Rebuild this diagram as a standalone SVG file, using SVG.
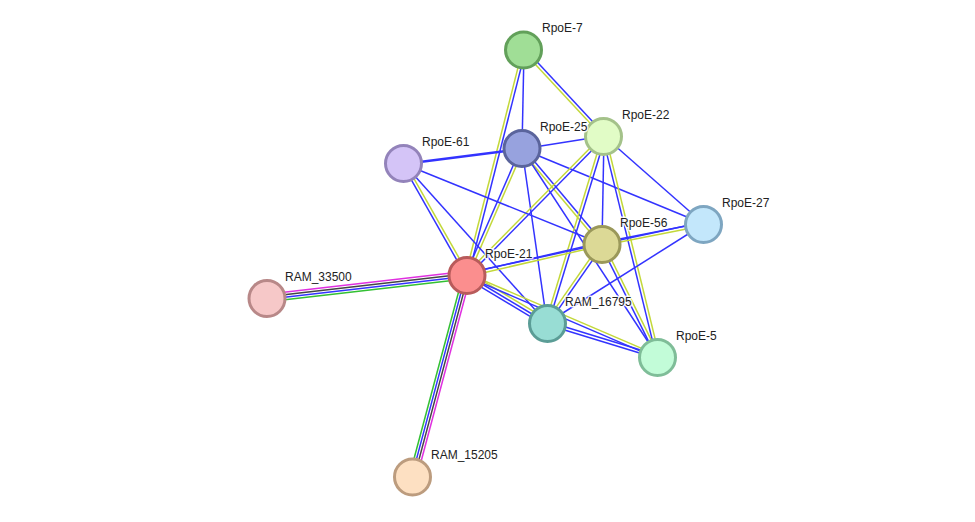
<svg xmlns="http://www.w3.org/2000/svg" width="975" height="522" viewBox="0 0 975 522">
<style>
.e line{stroke-width:1.5;fill:none}
.b{stroke:#3333ff}
.y{stroke:#c3d83a}
.m{stroke:#e030e0}
.k{stroke:#444444}
.g{stroke:#33c033}
.n circle{stroke-width:3}
.n text{font-family:"Liberation Sans",Arial,sans-serif;font-size:12px;fill:#222;stroke:#fff;stroke-width:3;stroke-opacity:0.85;paint-order:stroke;stroke-linejoin:round}
</style>
<rect width="975" height="522" fill="#fff"/>
<g id="edges" class="e">
<line class="b" x1="524" y1="50" x2="522" y2="149"/>
<line class="y" x1="522.9" y1="51.02" x2="602.9" y2="137.02"/>
<line class="b" x1="525.1" y1="48.98" x2="605.1" y2="134.98"/>
<line class="y" x1="522.55" y1="49.63" x2="465.55" y2="274.63"/>
<line class="b" x1="525.45" y1="50.37" x2="468.45" y2="275.37"/>
<line class="b" x1="522" y1="149" x2="604" y2="136"/>
<line class="b" x1="522" y1="149" x2="404" y2="164" style="stroke-width:2.6"/>
<line class="b" x1="520.63" y1="148.4" x2="465.63" y2="274.4"/>
<line class="y" x1="523.37" y1="149.6" x2="468.37" y2="275.6"/>
<line class="y" x1="520.85" y1="149.97" x2="600.85" y2="244.97"/>
<line class="b" x1="523.15" y1="148.03" x2="603.15" y2="243.03"/>
<line class="b" x1="522" y1="149" x2="704" y2="224"/>
<line class="b" x1="522" y1="149" x2="547" y2="323"/>
<line class="b" x1="522" y1="149" x2="658" y2="357"/>
<line class="y" x1="602.93" y1="134.95" x2="465.93" y2="273.95"/>
<line class="b" x1="605.07" y1="137.05" x2="468.07" y2="276.05"/>
<line class="b" x1="604" y1="136" x2="602" y2="244"/>
<line class="y" x1="602.57" y1="135.56" x2="545.57" y2="322.56"/>
<line class="b" x1="605.43" y1="136.44" x2="548.43" y2="323.44"/>
<line class="b" x1="602.54" y1="136.36" x2="656.54" y2="357.36"/>
<line class="y" x1="605.46" y1="135.64" x2="659.46" y2="356.64"/>
<line class="b" x1="604" y1="136" x2="704" y2="224"/>
<line class="b" x1="402.7" y1="164.74" x2="465.7" y2="275.74"/>
<line class="y" x1="405.3" y1="163.26" x2="468.3" y2="274.26"/>
<line class="b" x1="404" y1="164" x2="602" y2="244"/>
<line class="b" x1="404" y1="164" x2="547" y2="323"/>
<line class="b" x1="466.66" y1="273.54" x2="601.66" y2="242.54"/>
<line class="y" x1="467.34" y1="276.46" x2="602.34" y2="245.46"/>
<line class="b" x1="466.58" y1="273.04" x2="703.58" y2="222.04"/>
<line class="b" x1="601.71" y1="242.53" x2="703.71" y2="222.53"/>
<line class="y" x1="602.29" y1="245.47" x2="704.29" y2="225.47"/>
<line class="y" x1="468.54" y1="272.43" x2="548.54" y2="320.43"/>
<line class="b" x1="467" y1="275" x2="547" y2="323"/>
<line class="b" x1="465.46" y1="277.57" x2="545.46" y2="325.57"/>
<line class="y" x1="467.59" y1="273.62" x2="658.59" y2="355.62"/>
<line class="b" x1="466.41" y1="276.38" x2="657.41" y2="358.38"/>
<line class="m" x1="466.57" y1="271.27" x2="266.57" y2="294.27"/>
<line class="k" x1="466.86" y1="273.76" x2="266.86" y2="296.76"/>
<line class="b" x1="467.14" y1="276.24" x2="267.14" y2="299.24"/>
<line class="g" x1="467.43" y1="278.73" x2="267.43" y2="301.73"/>
<line class="g" x1="463.38" y1="274.03" x2="409.38" y2="476.03"/>
<line class="b" x1="465.79" y1="274.68" x2="411.79" y2="476.68"/>
<line class="k" x1="468.21" y1="275.32" x2="414.21" y2="477.32"/>
<line class="m" x1="470.62" y1="275.97" x2="416.62" y2="477.97"/>
<line class="y" x1="600.77" y1="243.14" x2="545.77" y2="322.14"/>
<line class="b" x1="603.23" y1="244.86" x2="548.23" y2="323.86"/>
<line class="b" x1="600.66" y1="244.67" x2="656.66" y2="357.67"/>
<line class="y" x1="603.34" y1="243.33" x2="659.34" y2="356.33"/>
<line class="b" x1="547" y1="323" x2="704" y2="224"/>
<line class="b" x1="546.56" y1="324.43" x2="657.56" y2="358.43"/>
<line class="b" x1="547.44" y1="321.57" x2="658.44" y2="355.57"/>
</g>
<g id="RpoE-7" class="n"><circle cx="523.5" cy="50" r="18" fill="#a0de96" stroke="#62a05a"/><text x="542" y="32">RpoE-7</text></g>
<g id="RpoE-22" class="n"><circle cx="603.5" cy="136.5" r="18" fill="#e1fcc6" stroke="#a4c28a"/><text x="622" y="119">RpoE-22</text></g>
<g id="RpoE-25" class="n"><circle cx="522" cy="148.5" r="18" fill="#97a2de" stroke="#5a649c"/><text x="540" y="131">RpoE-25</text></g>
<g id="RpoE-61" class="n"><circle cx="403.5" cy="163.5" r="18" fill="#d4c4f7" stroke="#9383ba"/><text x="422" y="146">RpoE-61</text></g>
<g id="RpoE-27" class="n"><circle cx="703.5" cy="224.5" r="18" fill="#c3e7fb" stroke="#7ea6c1"/><text x="722" y="207">RpoE-27</text></g>
<g id="RpoE-56" class="n"><circle cx="602" cy="244.5" r="18" fill="#dcd996" stroke="#9a985a"/><text x="620" y="227">RpoE-56</text></g>
<g id="RpoE-21" class="n"><circle cx="467" cy="275.5" r="18" fill="#fb8e8e" stroke="#b85b5b"/><text x="485" y="258">RpoE-21</text></g>
<g id="RAM_33500" class="n"><circle cx="267" cy="298.5" r="18" fill="#f6c8c8" stroke="#b88888"/><text x="285" y="281">RAM_33500</text></g>
<g id="RAM_16795" class="n"><circle cx="547.5" cy="323.5" r="18" fill="#98ddd4" stroke="#5b9d96"/><text x="565" y="306">RAM_16795</text></g>
<g id="RpoE-5" class="n"><circle cx="657.5" cy="357.5" r="18" fill="#c2fcd8" stroke="#7fbd98"/><text x="676" y="340">RpoE-5</text></g>
<g id="RAM_15205" class="n"><circle cx="412.5" cy="477" r="18" fill="#fde0c2" stroke="#bc9c7e"/><text x="431" y="459">RAM_15205</text></g>
</svg>
